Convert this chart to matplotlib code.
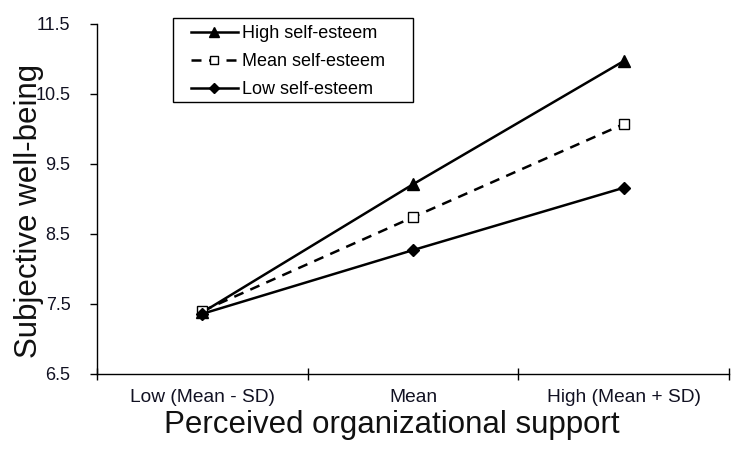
import matplotlib
matplotlib.use("Agg")
import matplotlib.pyplot as plt
from matplotlib.ticker import FixedLocator, NullFormatter
from matplotlib.patches import Rectangle

plt.rcParams['font.family'] = ['Liberation Sans', 'DejaVu Sans']

categories = ["Low (Mean - SD)", "Mean", "High (Mean + SD)"]
high_se = [7.38, 9.21, 10.97]
mean_se = [7.40, 8.74, 10.07]
low_se = [7.36, 8.27, 9.16]
series_names = ["High self-esteem", "Mean self-esteem", "Low self-esteem"]
y_ticks = [6.5, 7.5, 8.5, 9.5, 10.5, 11.5]

W, H = 738, 450
fig = plt.figure(figsize=(W/100, H/100), dpi=100)
ax = fig.add_axes([97/W, 1-374/H, (729-97)/W, (374-24)/H])

x = list(range(len(categories)))
ax.plot(x, high_se, color='black', lw=1.8, marker='^', ms=8, label=series_names[0])
ax.plot(x, mean_se, color='black', lw=1.8, ls=(0, (4, 3)), marker='s', ms=7,
        mfc='white', mec='black', mew=1.0, label=series_names[1])
ax.plot(x, low_se, color='black', lw=1.8, marker='D', ms=6, label=series_names[2])

ax.set_xlim(-0.5, 2.5)
ax.set_ylim(6.5, 11.5)
ax.set_yticks(y_ticks)
ax.set_yticklabels([f"{v:.1f}" for v in y_ticks], fontsize=13, color='#111122')

ax.xaxis.set_major_locator(FixedLocator([-0.5, 0.5, 1.5, 2.5]))
ax.xaxis.set_major_formatter(NullFormatter())
ax.xaxis.set_minor_locator(FixedLocator(x))
ax.set_xticklabels(categories, minor=True, fontsize=13.8, color='#111122')
ax.tick_params(axis='x', which='minor', length=0, pad=11)
ax.tick_params(axis='x', which='major', direction='inout', length=8, width=1)
ax.tick_params(axis='y', direction='out', length=5, width=1, pad=14)

for s in ['top', 'right']:
    ax.spines[s].set_visible(False)
for s in ['left', 'bottom']:
    ax.spines[s].set_linewidth(1.0)

ax.set_ylabel("Subjective well-being", fontsize=22.5, color='#111111')
ax.yaxis.set_label_coords((44-97)/632, 0.466)
ax.set_xlabel("Perceived organizational support", fontsize=22.5, color='#111111')
ax.xaxis.set_label_coords(0.467, (374-410)/350)

# legend box frame (drawn separately to match padding)
frame = Rectangle((173/W, 1-102/H), (413-173)/W, (102-18)/H,
                  transform=fig.transFigure, fill=True, facecolor='white',
                  edgecolor='black', lw=1.0, zorder=4, clip_on=False)
ax.add_artist(frame)
leg = ax.legend(loc='upper left', bbox_to_anchor=((191-97)/632, 1 - 1/350),
                fontsize=13, frameon=False, handlelength=2.6, handletextpad=0.25,
                borderpad=0.0, labelspacing=0.62, borderaxespad=0, markerscale=0.85)
leg.set_zorder(6)

fig.savefig("out.png", dpi=100, facecolor='white')
